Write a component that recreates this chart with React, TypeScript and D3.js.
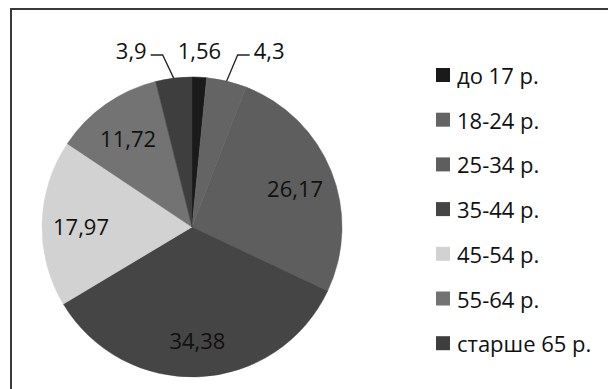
import React from "react";
import * as d3 from "d3";

// Age groups and their shares (%)
const categories = ["до 17 р.", "18-24 р.", "25-34 р.", "35-44 р.", "45-54 р.", "55-64 р.", "старше 65 р."];
const values = [1.56, 4.3, 26.17, 34.38, 17.97, 11.72, 3.9];
const valueLabels = ["1,56", "4,3", "26,17", "34,38", "17,97", "11,72", "3,9"];
const colors = ["#1a1a1a", "#646464", "#5e5e5e", "#454545", "#d2d2d2", "#737373", "#3e3e3e"];
// how each value label is placed: inside the slice, above the rim, or via a leader line
const labelModes = ["top", "leaderRight", "inside", "inside", "inside", "inside", "leaderLeft"];

const W = 608;
const H = 389;
const cx = 192;
const cy = 227;
const R = 150;
const FONT = "'Open Sans', sans-serif";
const TEXT = "#111";

export default function App() {
  const pie = d3.pie<number>().sort(null).value((d) => d);
  const arcs = pie(values);
  const arcGen = d3.arc<d3.PieArcDatum<number>>().innerRadius(0).outerRadius(R);
  const labelArc = d3.arc<d3.PieArcDatum<number>>().innerRadius(R * 0.74).outerRadius(R * 0.74);

  const legendX = 436;
  const legendY0 = 75;
  const legendStep = 44.7;
  const elbowY = 55;
  const baseY = 58.5;

  return (
    <svg width={W} height={H} style={{ position: "absolute", left: 0, top: 0, background: "#fff" }}>
      <rect x={11} y={9} width={700} height={500} fill="#fff" stroke="#3a3a3a" strokeWidth={2} />
      <g transform={`translate(${cx},${cy})`}>
        {arcs.map((a, i) => (
          <path key={i} d={arcGen(a) || ""} fill={colors[i]} stroke={colors[i]} strokeWidth={0.5} />
        ))}
      </g>
      {arcs.map((a, i) => {
        const mode = labelModes[i];
        const mid = (a.startAngle + a.endAngle) / 2;
        const px = cx + R * Math.sin(mid);
        const py = cy - R * Math.cos(mid);
        if (mode === "inside") {
          const [lx, ly] = labelArc.centroid(a);
          return (
            <text key={i} x={cx + lx} y={cy + ly + 2} textAnchor="middle" dominantBaseline="central"
              fontFamily={FONT} fontSize={22} fill={TEXT}>
              {valueLabels[i]}
            </text>
          );
        }
        if (mode === "top") {
          return (
            <text key={i} x={px} y={baseY} textAnchor="middle" fontFamily={FONT} fontSize={22} fill={TEXT}>
              {valueLabels[i]}
            </text>
          );
        }
        const sign = mode === "leaderRight" ? 1 : -1;
        const ex = px + sign * 11;
        const hx = ex + sign * 12;
        return (
          <g key={i}>
            <polyline points={`${px},${py} ${ex},${elbowY} ${hx},${elbowY}`} fill="none" stroke="#222" strokeWidth={1.3} />
            <text x={hx + sign * 4} y={baseY} textAnchor={sign > 0 ? "start" : "end"}
              fontFamily={FONT} fontSize={22} fill={TEXT}>
              {valueLabels[i]}
            </text>
          </g>
        );
      })}
      {categories.map((c, i) => {
        const y = legendY0 + i * legendStep;
        return (
          <g key={c}>
            <rect x={legendX} y={y - 7} width={14} height={14} fill={colors[i]} />
            <text x={457} y={y} dominantBaseline="central" fontFamily={FONT} fontSize={22} fill={TEXT}>
              {c}
            </text>
          </g>
        );
      })}
    </svg>
  );
}
